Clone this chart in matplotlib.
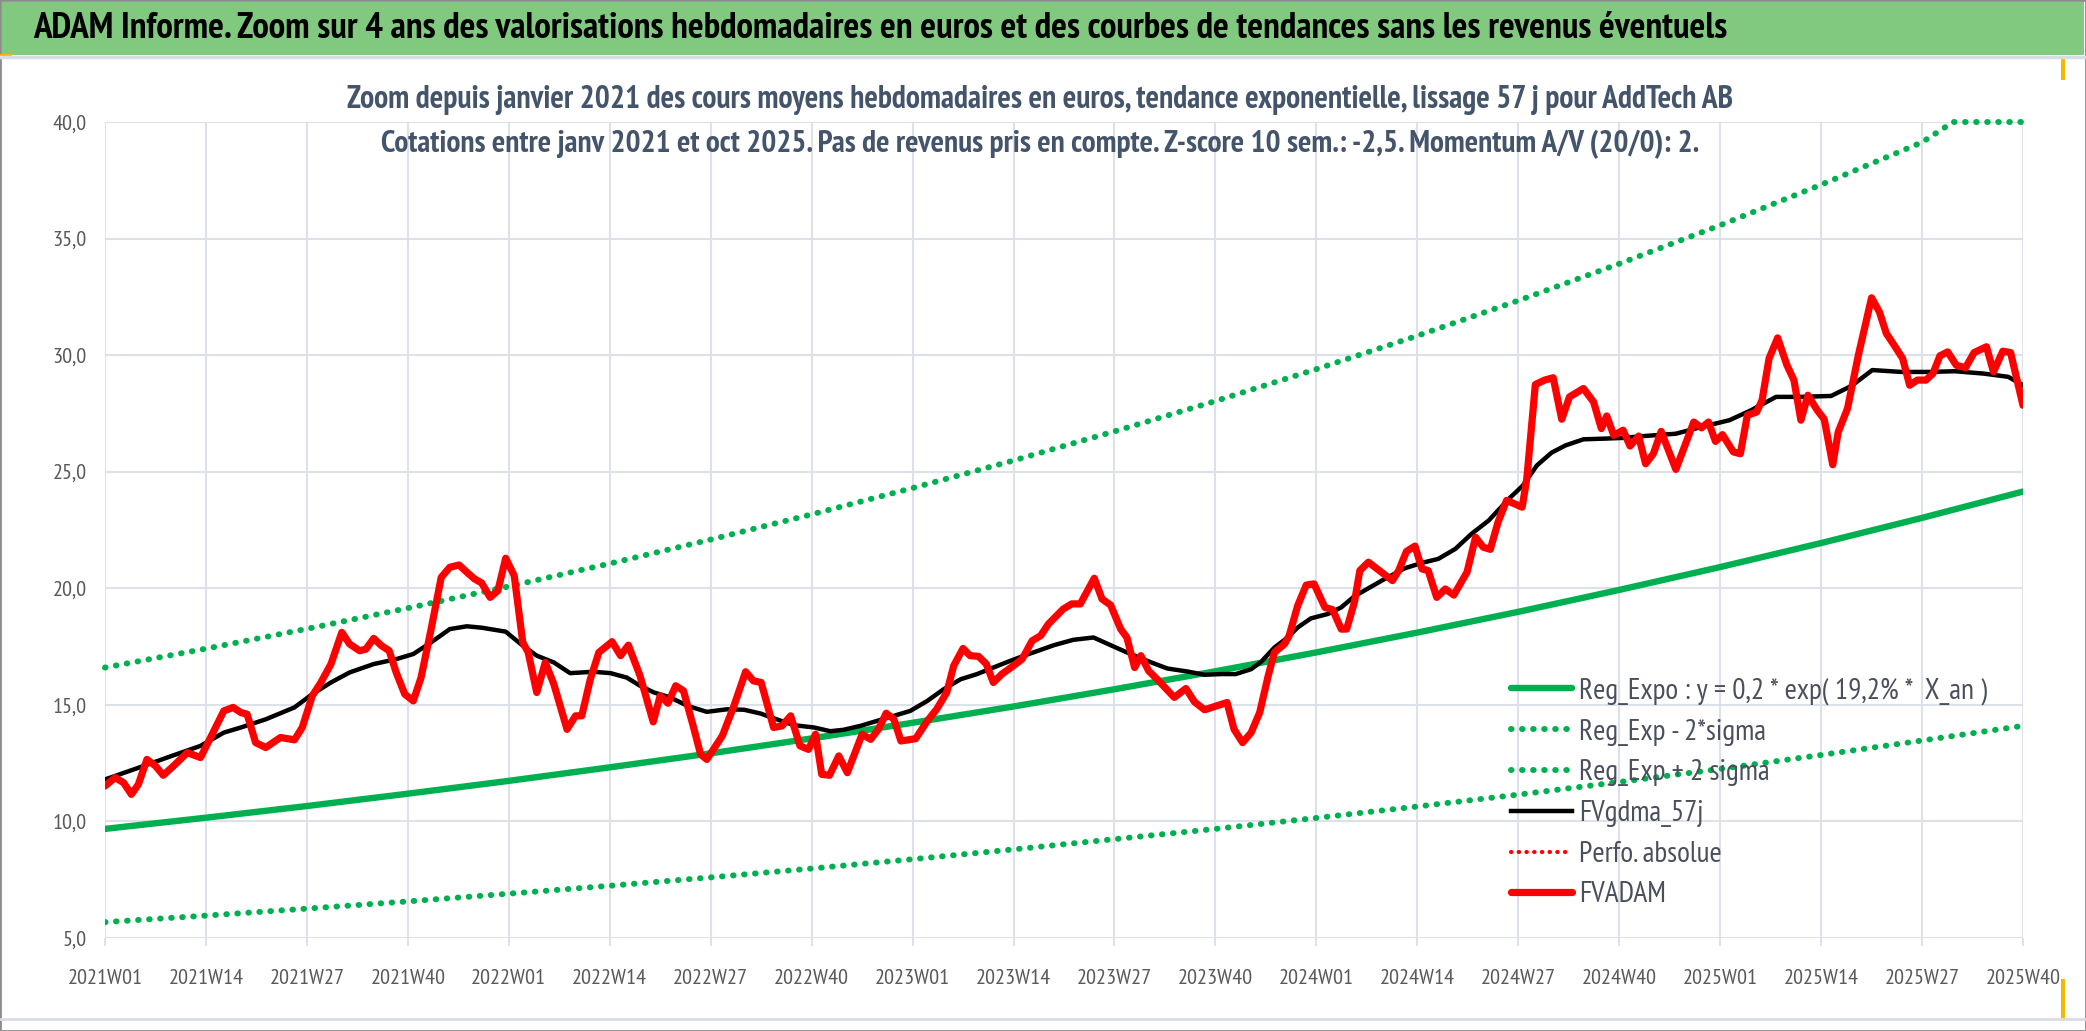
import matplotlib
matplotlib.use('Agg')
import matplotlib.pyplot as plt
from matplotlib.lines import Line2D
from matplotlib.patches import Rectangle

# ---- data ----
tick_labels = ['2021W01', '2021W14', '2021W27', '2021W40', '2022W01', '2022W14', '2022W27',
               '2022W40', '2023W01', '2023W14', '2023W27', '2023W40', '2024W01', '2024W14',
               '2024W27', '2024W40', '2025W01', '2025W14', '2025W27', '2025W40']
tick_weeks = [0, 13, 26, 39, 52, 65, 78, 91, 104, 117, 130, 143, 156, 169, 182, 195, 208, 221, 234, 247]

reg_expo = [9.68, 10.16, 10.66, 11.19, 11.74, 12.32, 12.92, 13.56, 14.23, 14.93,
            15.67, 16.44, 17.25, 18.10, 18.99, 19.93, 20.91, 21.94, 23.02, 24.15]
reg_low = [5.68, 5.96, 6.26, 6.57, 6.90, 7.24, 7.60, 7.98, 8.38, 8.80,
           9.24, 9.68, 10.15, 10.64, 11.15, 11.69, 12.25, 12.85, 13.47, 14.10]
high_weeks = [0, 13, 26, 39, 52, 65, 78, 91, 104, 117, 130, 143, 156, 169, 182, 195, 208, 221, 234, 238, 247]
reg_high = [16.60, 17.41, 18.26, 19.15, 20.08, 21.06, 22.09, 23.17, 24.30, 25.48,
            26.73, 28.03, 29.40, 30.83, 32.34, 33.92, 35.57, 37.31, 39.13, 40.0, 40.0]

gdma_weeks = [0, 4.3, 8.6, 12.3, 15.3, 17.5, 20.7, 24.4, 26.7, 29.1, 31.5, 34.6, 37.5, 39.7, 42.0,
              44.4, 46.6, 48.5, 51.6, 53.8, 55.6, 57.8, 59.9, 62.9, 65.1, 67.2, 68.9, 70.7, 72.8,
              75.0, 77.5, 80.1, 82.3, 84.4, 86.5, 88.7, 91.3, 93.4, 95.1, 97.3, 99.4, 101.6, 103.7,
              105.9, 108.0, 110.2, 112.3, 114.4, 116.6, 118.7, 120.0, 122.2, 124.7, 127.3, 129.5,
              131.6, 134.2, 136.8, 139.4, 141.6, 143.7, 145.6, 147.6, 148.9, 150.6, 152.3, 153.6,
              155.3, 157.5, 159.2, 160.9, 162.7, 164.8, 167.4, 169.6, 171.7, 173.9, 176.0, 178.2,
              180.8, 182.6, 184.4, 186.3, 188.1, 190.4, 193.2, 195.5, 198.2, 202.3, 205.6, 209.2,
              212.0, 215.2, 218.4, 222.3, 224.9, 227.6, 231.3, 235.0, 238.2, 241.9, 245.1, 247.0]
gdma_vals = [11.80, 12.30, 12.81, 13.24, 13.81, 14.03, 14.38, 14.89, 15.46, 15.96, 16.39, 16.75,
             16.96, 17.18, 17.68, 18.25, 18.37, 18.31, 18.14, 17.54, 17.11, 16.82, 16.36, 16.42,
             16.36, 16.17, 15.82, 15.53, 15.32, 14.96, 14.70, 14.81, 14.79, 14.63, 14.38, 14.13,
             14.03, 13.87, 13.93, 14.10, 14.31, 14.53, 14.74, 15.17, 15.67, 16.10, 16.32, 16.60,
             16.89, 17.15, 17.30, 17.56, 17.79, 17.89, 17.56, 17.25, 16.89, 16.56, 16.43, 16.29,
             16.32, 16.32, 16.53, 16.85, 17.46, 17.89, 18.32, 18.71, 18.90, 19.18, 19.66, 20.00,
             20.40, 20.86, 21.09, 21.26, 21.69, 22.34, 22.91, 23.84, 24.41, 25.27, 25.82, 26.13,
             26.39, 26.42, 26.45, 26.53, 26.63, 26.92, 27.21, 27.64, 28.21, 28.21, 28.25, 28.68,
             29.36, 29.28, 29.28, 29.31, 29.21, 29.07, 28.71]

adam_weeks = [0, 1.3, 2.4, 3.4, 4.3, 5.4, 6.5, 7.5, 8.6, 9.7, 10.6, 12.3, 13.6, 15.3, 16.5, 17.5,
              18.3, 19.4, 20.7, 22.6, 24.4, 25.4, 26.7, 27.8, 29.1, 30.5, 31.5, 32.8, 33.6, 34.6,
              35.6, 36.6, 37.5, 38.6, 39.7, 40.7, 42.0, 43.3, 44.4, 45.6, 46.6, 47.6, 48.5, 49.6,
              50.6, 51.6, 52.7, 53.8, 54.5, 55.6, 56.7, 57.8, 59.5, 60.6, 61.4, 62.5, 63.6, 65.3,
              66.4, 67.4, 68.9, 70.6, 71.5, 72.5, 73.5, 74.5, 75.8, 76.7, 77.5, 79.5, 81.0, 82.5,
              83.5, 84.5, 86.1, 87.2, 88.3, 89.5, 90.6, 91.5, 92.3, 93.3, 94.5, 95.6, 97.5, 98.6,
              99.6, 100.6, 101.6, 102.5, 104.4, 105.9, 107.1, 108.4, 109.3, 110.5, 111.4, 112.5,
              113.5, 114.4, 115.5, 117.0, 118.1, 119.4, 120.5, 121.5, 123.4, 124.5, 125.6, 127.4,
              128.4, 129.5, 130.8, 131.6, 132.6, 133.4, 134.4, 135.5, 137.7, 139.2, 140.3, 141.6,
              144.5, 145.4, 146.5, 147.6, 148.7, 149.8, 150.6, 151.9, 152.5, 153.6, 154.7, 155.7,
              157.1, 158.1, 159.2, 159.9, 160.9, 161.6, 162.7, 164.4, 165.8, 166.6, 167.6, 168.7,
              169.6, 170.4, 171.5, 172.6, 173.7, 175.4, 176.5, 177.5, 178.4, 179.4, 180.5, 182.5,
              183.1, 184.2, 185.4, 186.5, 187.6, 188.6, 190.4, 191.7, 192.7, 193.4, 194.3, 195.5,
              196.4, 197.5, 198.4, 199.4, 200.4, 202.3, 204.6, 205.6, 206.5, 207.4, 208.3, 209.7,
              210.6, 211.5, 212.7, 213.4, 214.3, 215.4, 216.6, 217.5, 218.4, 219.3, 220.5, 221.4,
              222.5, 223.2, 224.4, 225.8, 227.5, 228.5, 229.4, 230.4, 231.5, 232.4, 233.4, 234.5,
              235.4, 236.3, 237.3, 238.4, 239.6, 240.7, 242.3, 243.2, 244.4, 245.4, 247.0]
adam_vals = [11.52, 11.88, 11.66, 11.16, 11.59, 12.66, 12.38, 11.98, 12.31, 12.66, 12.95, 12.74,
             13.60, 14.74, 14.89, 14.67, 14.60, 13.38, 13.17, 13.60, 13.50, 14.03, 15.39, 15.96,
             16.75, 18.11, 17.61, 17.32, 17.39, 17.85, 17.54, 17.32, 16.39, 15.46, 15.17, 16.17,
             18.25, 20.47, 20.90, 21.00, 20.69, 20.40, 20.23, 19.61, 19.90, 21.29, 20.54, 17.68,
             17.25, 15.53, 16.82, 15.89, 13.95, 14.53, 14.53, 16.10, 17.25, 17.71, 17.11, 17.56,
             16.25, 14.27, 15.39, 15.07, 15.82, 15.60, 14.03, 12.88, 12.66, 13.67, 14.96, 16.42,
             16.03, 15.96, 14.03, 14.10, 14.53, 13.24, 13.09, 13.74, 12.02, 11.98, 12.81, 12.09,
             13.74, 13.52, 13.95, 14.64, 14.38, 13.45, 13.55, 14.31, 14.81, 15.53, 16.68, 17.42,
             17.11, 17.08, 16.75, 15.96, 16.32, 16.68, 16.96, 17.75, 17.97, 18.47, 19.11, 19.33,
             19.33, 20.43, 19.54, 19.28, 18.25, 17.89, 16.60, 17.11, 16.46, 16.10, 15.32, 15.70,
             15.13, 14.79, 15.10, 13.95, 13.38, 13.81, 14.67, 16.25, 17.25, 17.61, 17.97, 19.26,
             20.14, 20.19, 19.18, 19.08, 18.25, 18.25, 19.40, 20.76, 21.12, 20.69, 20.33, 20.76,
             21.58, 21.81, 20.83, 20.76, 19.61, 19.97, 19.71, 20.69, 22.19, 21.76, 21.67, 22.84,
             23.77, 23.48, 24.70, 28.74, 28.93, 29.03, 27.25, 28.21, 28.57, 27.99, 26.85, 27.39,
             26.56, 26.78, 26.10, 26.53, 25.34, 25.77, 26.73, 25.10, 27.13, 26.88, 27.13, 26.30,
             26.59, 25.85, 25.77, 27.42, 27.56, 28.07, 29.86, 30.74, 29.57, 28.93, 27.21, 28.28,
             27.64, 27.25, 25.30, 26.70, 27.71, 30.00, 32.46, 31.86, 30.93, 30.43, 29.86, 28.71,
             28.93, 28.93, 29.21, 29.97, 30.14, 29.57, 29.46, 30.11, 30.36, 29.28, 30.17, 30.11,
             27.85]

title = ("ADAM Informe. Zoom sur 4 ans des valorisations hebdomadaires en euros "
         "et des courbes de tendances sans les revenus éventuels")
subtitle1 = ("Zoom depuis janvier 2021 des cours moyens hebdomadaires en euros, "
             "tendance exponentielle, lissage 57 j pour AddTech AB")
subtitle2 = ("Cotations entre janv 2021 et oct 2025. Pas de revenus pris en compte. "
             "Z-score 10 sem.: -2,5. Momentum A/V (20/0): 2.")
legend_labels = ['Reg_Expo : y = 0,2 * exp( 19,2% *  X_an )', 'Reg_Exp - 2*sigma',
                 'Reg_Exp + 2 sigma', 'FVgdma_57j', 'Perfo. absolue', 'FVADAM']

plt.rcParams['font.family'] = ['PT Sans Narrow', 'Carlito', 'DejaVu Sans']

W, H = 2086, 1031
fig = plt.figure(figsize=(W / 100, H / 100), dpi=100)
fig.patch.set_facecolor('white')
r = fig.canvas.get_renderer()


def size_for(txt, width_px, weight='normal'):
    # font size (pt) that gives the text the wanted pixel width
    t = fig.text(0, 0, txt, fontsize=20, fontweight=weight)
    w = t.get_window_extent(renderer=r).width
    t.remove()
    return 20 * width_px / w


# frame and title bar
fig.add_artist(Rectangle((0, 0), 1, 1, transform=fig.transFigure, fill=False,
                         edgecolor='#8C8C8C', lw=2))
fig.add_artist(Rectangle((0.001, 1 - 55 / H), 0.998, 53 / H, transform=fig.transFigure,
                         facecolor='#80C97E', edgecolor='none'))
fig.add_artist(Line2D([0, 1], [1 - 57 / H] * 2, transform=fig.transFigure, color='#D9DCE3', lw=2.5))
fig.add_artist(Line2D([0, 1], [12 / H] * 2, transform=fig.transFigure, color='#D9DCE3', lw=2))

fig.text(33 / W, 1 - 29 / H, title, fontsize=size_for(title, 1697, 'bold'), fontweight='bold',
         color='black', ha='left', va='center')
fig.text(1040 / W, 1 - 100 / H, subtitle1, fontsize=size_for(subtitle1, 1390, 'bold'),
         fontweight='bold', color='#44546A', ha='center', va='center')
fig.text(1040 / W, 1 - 144 / H, subtitle2, fontsize=size_for(subtitle2, 1323, 'bold'),
         fontweight='bold', color='#44546A', ha='center', va='center')

ax = fig.add_axes([105 / W, 93 / H, (2023 - 105) / W, (938 - 122) / H])
ax.set_xlim(0, 247)
ax.set_ylim(5, 40)
for s in ax.spines.values():
    s.set_visible(False)
ax.set_xticks(tick_weeks)
ax.set_xticklabels(tick_labels)
ax.set_yticks([5, 10, 15, 20, 25, 30, 35, 40])
ax.set_yticklabels(['5,0', '10,0', '15,0', '20,0', '25,0', '30,0', '35,0', '40,0'])
ax.grid(True, color='#DDE1E8', lw=1.5)
ax.set_axisbelow(True)
tick_fs = size_for('2024W27', 75)
ax.tick_params(axis='x', length=6, width=1.5, color='#DDE1E8', labelsize=tick_fs,
               labelcolor='#595959', pad=16)
ax.tick_params(axis='y', length=0, labelsize=tick_fs, labelcolor='#595959', pad=13)

dots = (0, (0.1, 1.75))
ax.plot(tick_weeks, reg_expo, color='#00B050', lw=4.6, solid_capstyle='round', label=legend_labels[0])
ax.plot(tick_weeks, reg_low, color='#00B050', lw=4.3, ls=dots, dash_capstyle='round',
        label=legend_labels[1])
ax.plot(high_weeks, reg_high, color='#00B050', lw=4.3, ls=dots, dash_capstyle='round',
        label=legend_labels[2], clip_on=False)
ax.plot(gdma_weeks, gdma_vals, color='black', lw=3.2, label=legend_labels[3])
ax.plot([], [], color='#FF0000', lw=3.0, ls=dots, dash_capstyle='round', label=legend_labels[4])
ax.plot(adam_weeks, adam_vals, color='#FF0000', lw=5.2, solid_capstyle='round',
        solid_joinstyle='round', label=legend_labels[5])

leg_fs = size_for(legend_labels[0], 408)
fs_px = leg_fs * 100 / 72
leg = ax.legend(loc='center left',
                bbox_to_anchor=((1511 - 105) / (2023 - 105), (938 - 793) / (938 - 122)),
                frameon=False, fontsize=leg_fs, handlelength=61 / fs_px,
                handletextpad=7 / fs_px, labelspacing=(49 - 1.2 * fs_px) / fs_px,
                borderaxespad=0, borderpad=0)
for t in leg.get_texts():
    t.set_color('#4A4F5C')

# small yellow selection marks
fig.add_artist(Rectangle((0, 1 - 58 / H), 12 / W, 4 / H, transform=fig.transFigure,
                         facecolor='#F5B800', edgecolor='none'))
fig.add_artist(Rectangle((2061 / W, 1 - 80 / H), 4 / W, 22 / H, transform=fig.transFigure,
                         facecolor='#F5B800', edgecolor='none'))
fig.add_artist(Rectangle((2061 / W, 12 / H), 4 / W, 40 / H, transform=fig.transFigure,
                         facecolor='#F5B800', edgecolor='none'))

fig.savefig('out.png', dpi=100, facecolor='white')
